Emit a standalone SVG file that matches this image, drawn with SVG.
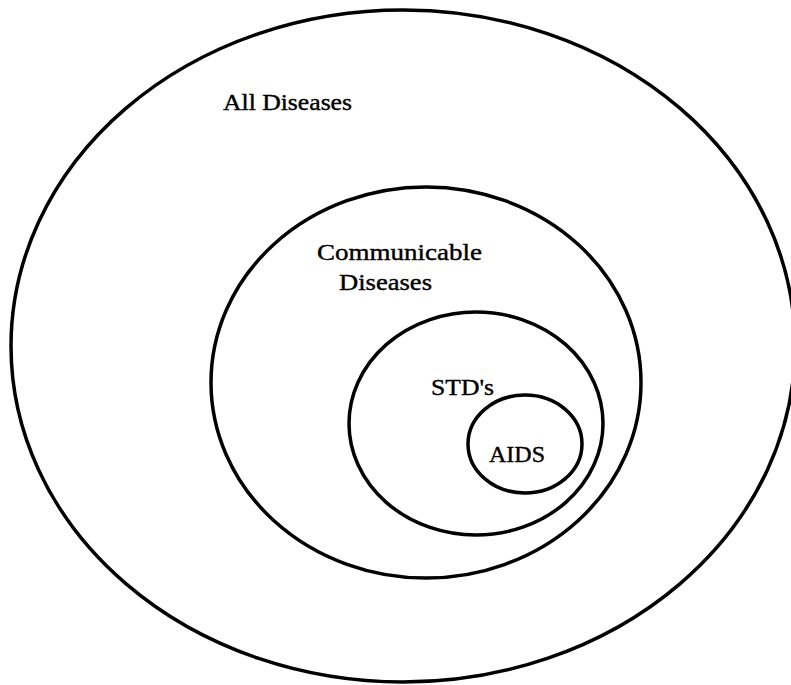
<svg xmlns="http://www.w3.org/2000/svg" width="791" height="685" viewBox="0 0 791 685">
<style>
.set{fill:none;stroke:#000;stroke-width:3.5}
.lbl{font-family:"Liberation Serif","Times New Roman",serif;font-size:24px;fill:#000;stroke:#000;stroke-width:0.4}
</style>
<rect width="791" height="685" fill="#fff"/>
<g id="all-diseases">
<ellipse class="set" cx="403" cy="346" rx="392" ry="336"/>
<text class="lbl" x="223" y="110" textLength="129" lengthAdjust="spacingAndGlyphs">All Diseases</text>
</g>
<g id="communicable-diseases">
<ellipse class="set" cx="426" cy="382.5" rx="215" ry="195.5"/>
<text class="lbl" x="317" y="260" textLength="165" lengthAdjust="spacingAndGlyphs">Communicable</text>
<text class="lbl" x="339" y="290" textLength="93" lengthAdjust="spacingAndGlyphs">Diseases</text>
</g>
<g id="stds">
<ellipse class="set" cx="476" cy="423.5" rx="127" ry="111.5"/>
<text class="lbl" x="431" y="395" textLength="63" lengthAdjust="spacingAndGlyphs">STD's</text>
</g>
<g id="aids">
<ellipse class="set" cx="525" cy="444" rx="57" ry="49"/>
<text class="lbl" x="489" y="462" textLength="56" lengthAdjust="spacingAndGlyphs">AIDS</text>
</g>
<g id="connectors"/>
</svg>
